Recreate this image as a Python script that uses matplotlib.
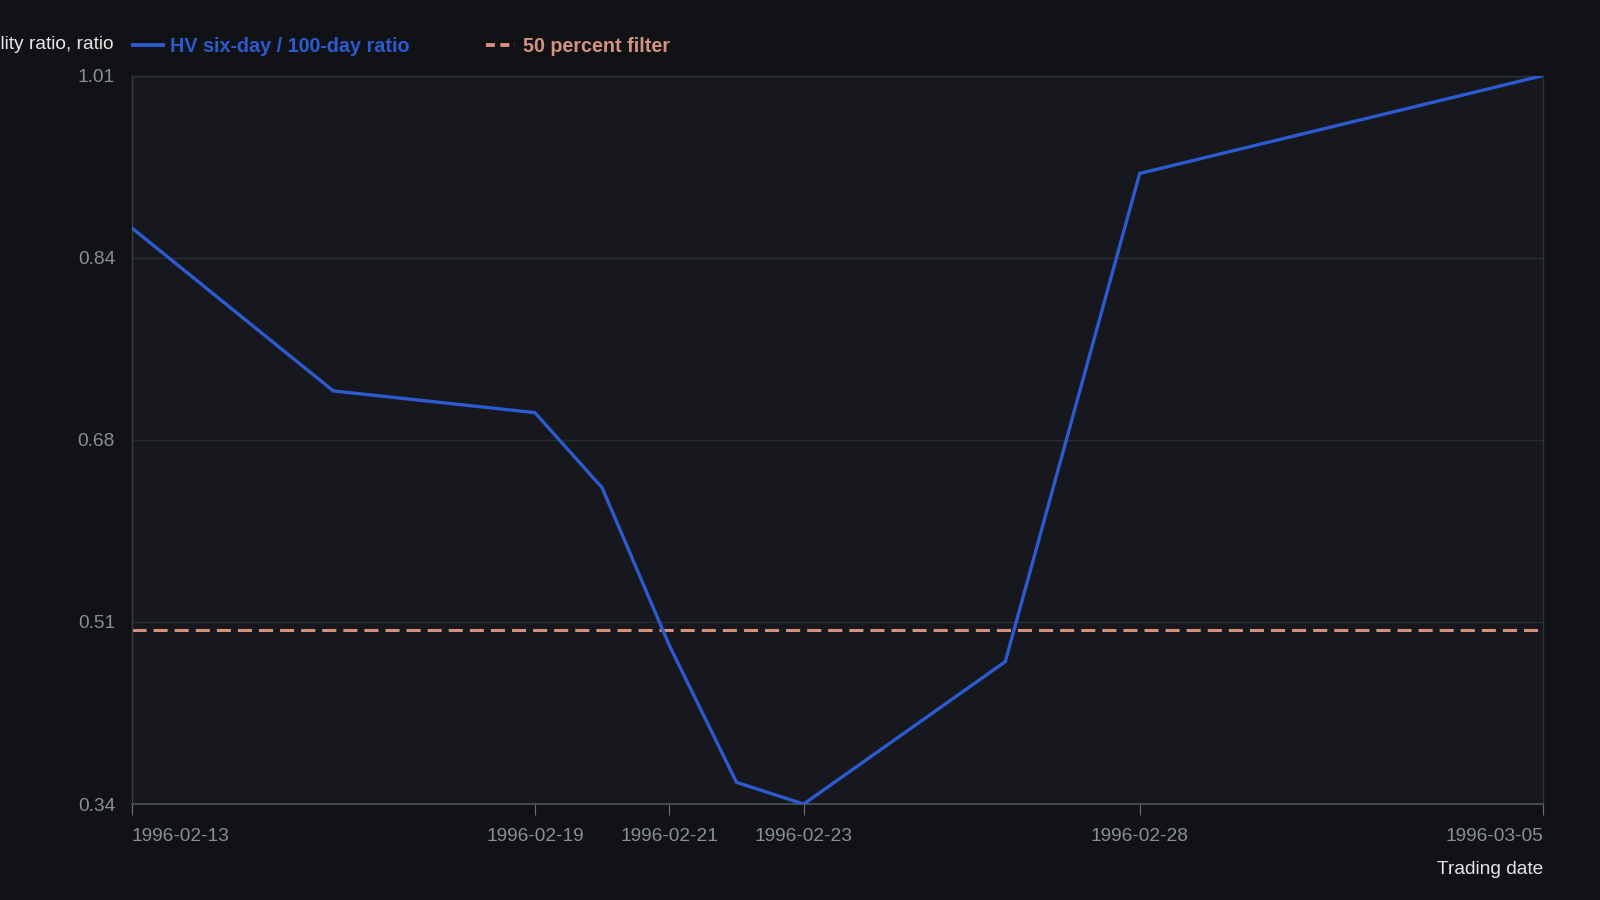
import pandas as pd
import matplotlib.pyplot as plt
import matplotlib.dates as mdates
from matplotlib.lines import Line2D

plt.rcParams['font.family'] = ['Liberation Sans', 'DejaVu Sans']

dates = pd.to_datetime(["1996-02-13", "1996-02-16", "1996-02-19", "1996-02-20", "1996-02-21",
                        "1996-02-22", "1996-02-23", "1996-02-26", "1996-02-28", "1996-03-05"])
ratio = [0.870, 0.720, 0.700, 0.631, 0.486, 0.360, 0.340, 0.471, 0.920, 1.010]
filter_level = 0.50
yticks = [0.34, 0.5075, 0.675, 0.8425, 1.01]
ytick_labels = ["0.34", "0.51", "0.68", "0.84", "1.01"]
xticks = pd.to_datetime(["1996-02-13", "1996-02-19", "1996-02-21", "1996-02-23", "1996-02-28", "1996-03-05"])

bg = "#101216"
panel = "#16181d"
blue = "#2c5ad0"
salmon = "#d4917f"
tick_col = "#8a8e95"
grid_col = "#2a2d33"

fig = plt.figure(figsize=(16, 9), dpi=100, facecolor=bg)
ax = fig.add_axes([0.0823, 0.1066, 0.8820, 0.8094])
ax.set_facecolor(panel)

ax.plot(dates, ratio, color=blue, lw=2.4, solid_joinstyle="miter", zorder=3)
ax.axhline(filter_level, color=salmon, lw=2.2, dashes=(4.6, 2.3), zorder=2)

ax.set_ylim(0.34, 1.01)
ax.set_xlim(dates[0], dates[-1])
ax.set_yticks(yticks)
ax.set_yticklabels(ytick_labels)
ax.set_xticks(xticks)
ax.xaxis.set_major_formatter(mdates.DateFormatter("%Y-%m-%d"))
ax.grid(axis="y", color=grid_col, lw=1)
ax.tick_params(axis="y", length=0, pad=12, labelcolor=tick_col, labelsize=13.8)
ax.tick_params(axis="x", length=8, color="#6a6e75", pad=9, labelcolor=tick_col, labelsize=13.8)
labels = ax.get_xticklabels()
labels[0].set_horizontalalignment("left")
labels[-1].set_horizontalalignment("right")
for name, sp in ax.spines.items():
    sp.set_color("#2e3137")
    sp.set_linewidth(1)
ax.spines["bottom"].set_color("#44474d")
ax.spines["bottom"].set_linewidth(1.5)
ax.spines["left"].set_color("#3a3d43")

ax.set_xlabel("Trading date", color="#e6e6e6", fontsize=13.8, loc="right", labelpad=12)
fig.text(0.0708, 0.951, "Volatility ratio, ratio", color="#e6e6e6", fontsize=13.8,
         ha="right", va="center")

handles = [Line2D([], [], color=blue, lw=2.8),
           Line2D([], [], color=salmon, lw=2.8, dashes=(2.3, 1.4))]
leg = fig.legend(handles, ["HV six-day / 100-day ratio", "50 percent filter"],
                 loc="center left", bbox_to_anchor=(0.072, 0.948), ncol=2, frameon=False,
                 handlelength=1.5, handletextpad=0.4, columnspacing=3.85,
                 prop={"size": 14.2, "weight": "bold"})
for txt, c in zip(leg.get_texts(), [blue, salmon]):
    txt.set_color(c)

fig.savefig("out.png", dpi=100, facecolor=bg)
